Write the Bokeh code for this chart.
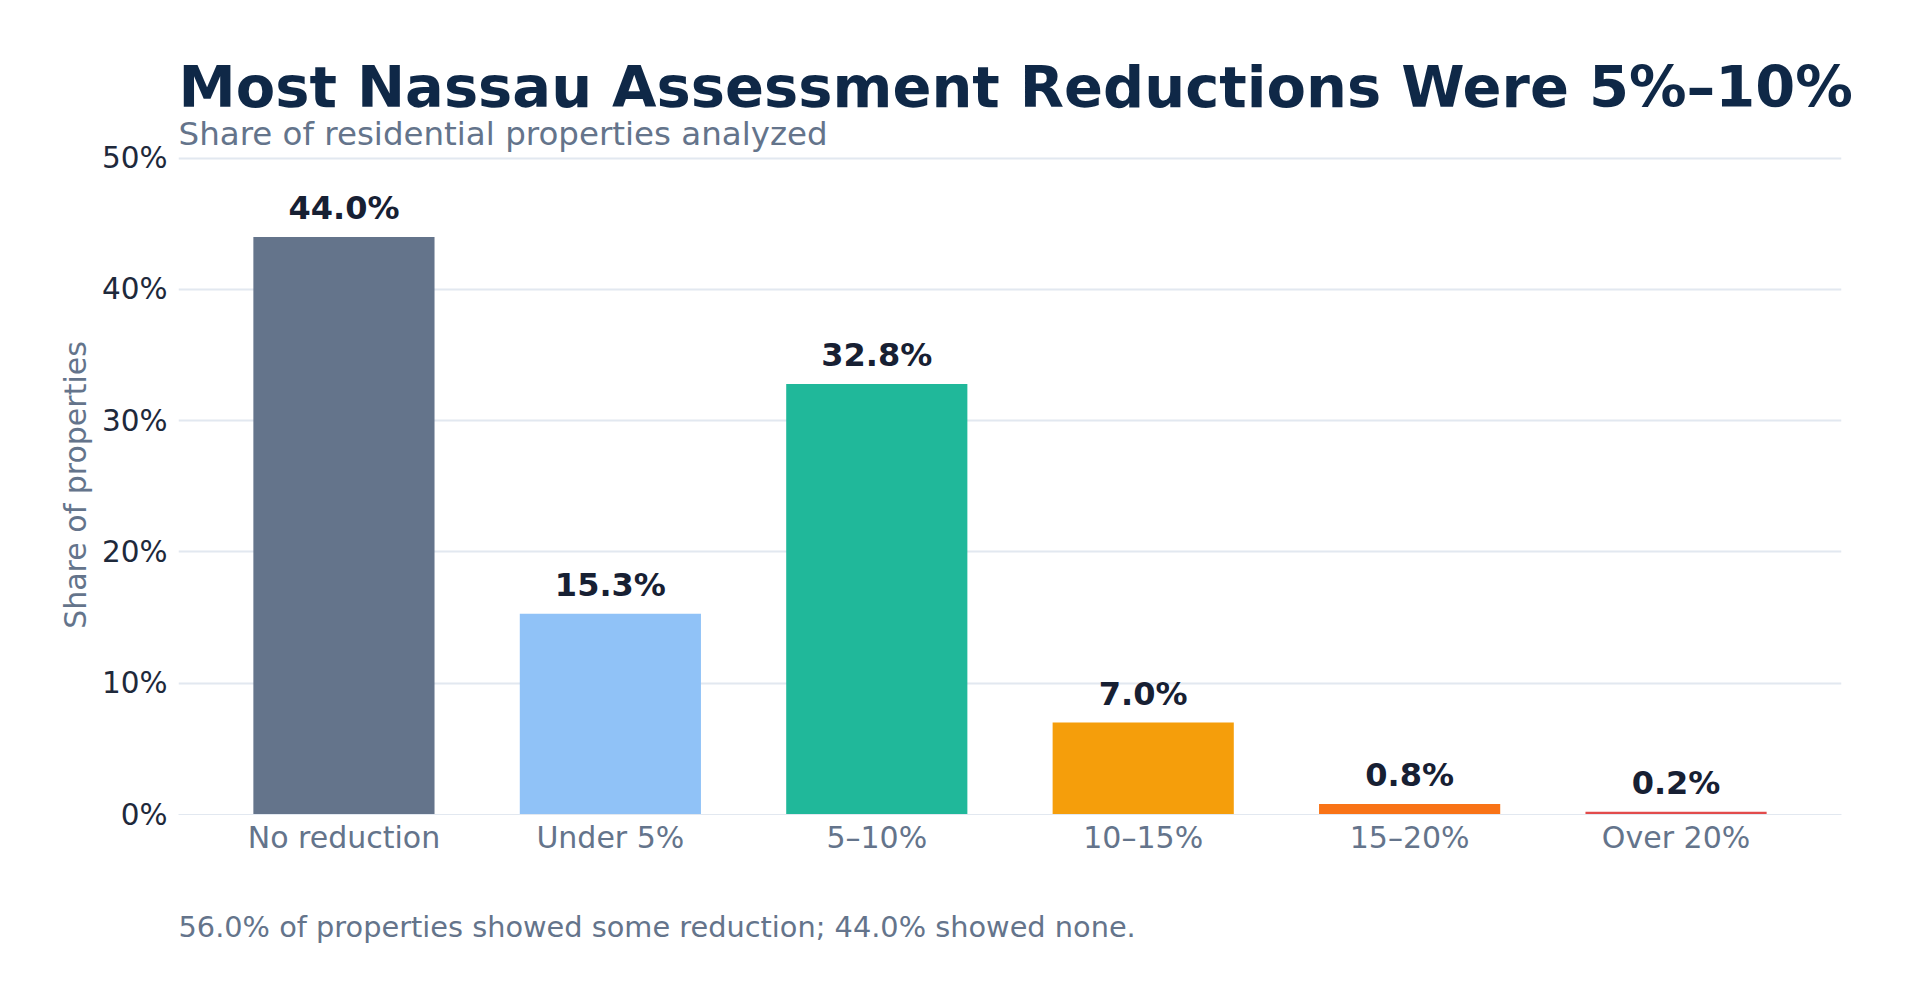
from bokeh.plotting import figure
from bokeh.models import ColumnDataSource, FactorRange, Title, FixedTicker, PrintfTickFormatter, Range1d
from bokeh.core.properties import value
from bokeh.embed import file_html
from bokeh.resources import INLINE

categories = ["No reduction", "Under 5%", "5\u201310%", "10\u201315%", "15\u201320%", "Over 20%"]
shares = [44.0, 15.3, 32.8, 7.0, 0.8, 0.2]
bar_colors = ["#64748b", "#90c2f7", "#20b89a", "#f59e0b", "#f97316", "#e24b4b"]
y_ticks = [0, 10, 20, 30, 40, 50]

title_text = "Most Nassau Assessment Reductions Were 5%\u201310%"
subtitle_text = "Share of residential properties analyzed"
footnote_text = "56.0% of properties showed some reduction; 44.0% showed none."

labels = ["%.1f%%" % v for v in shares]
source = ColumnDataSource(data=dict(cat=categories, share=shares, color=bar_colors, label=labels))

FONT = "DejaVu Sans"

p = figure(
    width=1890, height=1000,
    x_range=FactorRange(factors=categories, range_padding=0.121, range_padding_units="absolute"),
    y_range=Range1d(0, 50.2),
    output_backend="svg", toolbar_location=None,
    min_border_left=178, min_border_right=49, min_border_top=155, min_border_bottom=186,
)
p.outline_line_color = None
p.background_fill_color = "white"
p.border_fill_color = "white"

p.vbar(x="cat", top="share", width=0.68, source=source, fill_color="color", line_color=None)
p.text(x="cat", y="share", text="label", source=source,
       text_align="center", text_baseline="alphabetic", y_offset=-29,
       text_font=value(FONT), text_font_style="bold", text_font_size="32px",
       text_color="#172033")

# grid
p.xgrid.grid_line_color = None
p.ygrid.grid_line_color = "#e2e8f0"
p.ygrid.grid_line_width = 2

# y axis
p.yaxis.ticker = FixedTicker(ticks=y_ticks)
p.yaxis.formatter = PrintfTickFormatter(format="%d%%")
p.yaxis.axis_line_color = None
p.yaxis.major_tick_line_color = None
p.yaxis.minor_tick_line_color = None
p.yaxis.major_tick_out = 0
p.yaxis.major_label_standoff = 11
p.yaxis.major_label_text_font = FONT
p.yaxis.major_label_text_font_size = "29.5px"
p.yaxis.major_label_text_color = "#1e293b"
p.yaxis.axis_label = "Share of properties"
p.yaxis.axis_label_text_font = FONT
p.yaxis.axis_label_text_font_style = "normal"
p.yaxis.axis_label_text_font_size = "30px"
p.yaxis.axis_label_text_color = "#64748b"
p.yaxis.axis_label_standoff = 6

# x axis
p.xaxis.axis_line_color = "#e2e8f0"
p.xaxis.axis_line_width = 1
p.xaxis.major_tick_line_color = None
p.xaxis.minor_tick_line_color = None
p.xaxis.major_tick_out = 0
p.xaxis.major_label_standoff = 5
p.xaxis.major_label_text_font = FONT
p.xaxis.major_label_text_font_size = "30px"
p.xaxis.major_label_text_color = "#64748b"

# subtitle (closest to the frame), then title above it
p.add_layout(Title(text=subtitle_text, align="left", text_font=FONT, text_font_style="normal",
                   text_font_size="32.5px", text_color="#64748b", standoff=4.5), "above")
p.add_layout(Title(text=title_text, align="left", text_font=FONT, text_font_style="bold",
                   text_font_size="57.5px", text_color="#0f2847", standoff=-20.5), "above")
# footnote below the x axis
p.add_layout(Title(text=footnote_text, align="left", text_font=FONT, text_font_style="normal",
                   text_font_size="28.8px", text_color="#64748b", vertical_align="top",
                   standoff=104), "below")

open("out.html", "w").write(file_html(p, INLINE))
